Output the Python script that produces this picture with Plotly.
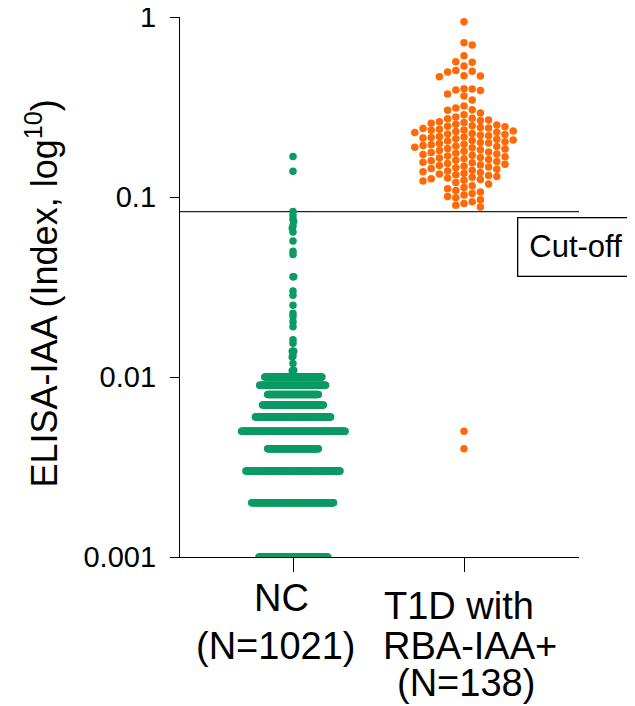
import numpy as np
import plotly.graph_objects as go

# ---------------- data ----------------
categories = ["NC", "T1D with RBA-IAA+"]

# NC group: many identical values at discrete levels + a sparse upper tail
nc_levels = [0.001, 0.002, 0.003, 0.004, 0.005, 0.006, 0.007, 0.008, 0.009, 0.010]
nc_level_counts = [96, 114, 131, 71, 144, 105, 85, 71, 92, 80]
nc_upper = [0.168, 0.139, 0.083, 0.079, 0.075, 0.073, 0.069, 0.067, 0.064, 0.057,
            0.050, 0.048, 0.036, 0.036, 0.030, 0.0285, 0.025, 0.0226, 0.0216, 0.0203,
            0.019, 0.0161, 0.0154, 0.0139, 0.0139, 0.0139, 0.0131, 0.0129, 0.0119,
            0.0109, 0.0109, 0.0108]

# T1D with RBA-IAA+ group (138 values)
t1d_values = [0.94, 0.72, 0.70, 0.61, 0.565, 0.56, 0.535, 0.505, 0.50, 0.495,
              0.472, 0.47, 0.466, 0.40, 0.398, 0.393, 0.39, 0.373, 0.364, 0.346,
              0.32, 0.312, 0.305, 0.303,
              0.293, 0.286, 0.278,
              0.274, 0.272, 0.268, 0.266, 0.262, 0.259, 0.257, 0.254, 0.251, 0.249,
              0.247, 0.246, 0.243, 0.2415, 0.240, 0.238, 0.236, 0.2345, 0.2325, 0.231,
              0.229, 0.228, 0.2255, 0.224, 0.2225, 0.2205, 0.219, 0.217, 0.2155, 0.214,
              0.2125, 0.2105, 0.209, 0.2075, 0.206, 0.2045, 0.2025, 0.201, 0.1995, 0.198,
              0.1965, 0.195, 0.1935, 0.192, 0.1905, 0.189, 0.1875, 0.186, 0.1845, 0.183,
              0.181, 0.1795, 0.178, 0.1765, 0.175, 0.1735, 0.172, 0.1705, 0.169, 0.1675,
              0.166, 0.1645, 0.163, 0.1615, 0.160, 0.1588, 0.1575, 0.156, 0.1548, 0.1535,
              0.152, 0.1508, 0.1495, 0.1482,
              0.147, 0.1455, 0.144, 0.1425, 0.141, 0.1395, 0.138, 0.1368, 0.1355, 0.134,
              0.1328, 0.1315, 0.130, 0.1288, 0.1275, 0.1262, 0.125, 0.1238, 0.1226,
              0.1205, 0.118, 0.1155, 0.113, 0.111, 0.1085, 0.1065, 0.1045, 0.1025,
              0.1005, 0.099,
              0.0965, 0.094, 0.092, 0.090, 0.088,
              0.005, 0.004]

cutoff = 0.083
y_tickvals = [0.001, 0.01, 0.1, 1]
y_ticktext = ["0.001", "0.01", "0.1", "1"]
nc_label_lines = ["NC", "(N=1021)"]
t1d_label_lines = ["T1D with", "RBA-IAA+", "(N=138)"]
y_title = "ELISA-IAA (Index, log<sup>10</sup>)"
cutoff_label = "Cut-off"

# ---------------- layout geometry ----------------
W, H = 635, 706
OFF = 8                      # page body offset of the figure inside the window
PLOT_L, PLOT_T = 180, 17     # plot-area corner as seen in the window
plot_w, plot_h = 399, 540
ML, MT = PLOT_L - OFF, PLOT_T - OFF
MR, MB = W - ML - plot_w, H - MT - plot_h
X_RANGE = [-0.6608, 1.6725]
Y_RANGE = [-3, 0]
px_per_x = plot_w / (X_RANGE[1] - X_RANGE[0])
px_per_decade = plot_h / (Y_RANGE[1] - Y_RANGE[0])

FONT = "Liberation Sans, Arial, Helvetica, sans-serif"
GREEN = "#0a9a63"
ORANGE = "#ff6a06"


def swarm(values, spacing_px, vmin_px):
    """Column-based beeswarm: x offsets (data units) computed from values."""
    ys = np.log10(np.asarray(values, dtype=float)) * px_per_decade
    order = np.argsort(-ys, kind="stable")
    cols = {}
    side = {1: 0, -1: 0}
    offs = np.zeros(len(ys))
    for i in order:
        y = ys[i]
        k = 0
        placed = None
        while placed is None:
            if k == 0:
                cands = [0]
            else:
                first = 1 if side[1] <= side[-1] else -1
                cands = [first * k, -first * k]
            for c in cands:
                if all(abs(y - yy) >= vmin_px for yy in cols.get(c, [])):
                    placed = c
                    break
            k += 1
        cols.setdefault(placed, []).append(y)
        if placed != 0:
            side[1 if placed > 0 else -1] += 1
        offs[i] = placed * spacing_px / px_per_x
    return offs


nc_values = list(np.repeat(nc_levels, nc_level_counts)) + nc_upper
nc_x = 0 + swarm(nc_values, 0.724, 3.0)
t1d_x = 1 + swarm(t1d_values, 8.2, 7.0)

fig = go.Figure()
fig.add_trace(go.Scatter(x=nc_x, y=nc_values, mode="markers",
                         marker=dict(size=7.5, color=GREEN, line=dict(width=0)),
                         name=categories[0], showlegend=False, hoverinfo="y"))
fig.add_trace(go.Scatter(x=t1d_x, y=t1d_values, mode="markers",
                         marker=dict(size=7.5, color=ORANGE, line=dict(width=0)),
                         name=categories[1], showlegend=False, hoverinfo="y"))

fig.add_shape(type="line", xref="paper", x0=0, x1=1, yref="y", y0=cutoff, y1=cutoff,
              line=dict(color="#222222", width=1.3), layer="below")


def py(pix):  # window pixel row -> paper y
    return (PLOT_T + plot_h - pix) / plot_h


def px(pix):  # window pixel column -> paper x
    return (pix - PLOT_L) / plot_w


annotations = []
label_specs = [
    (0, nc_label_lines[0], -12, 598),
    (0, nc_label_lines[1], -18, 646),
    (1, t1d_label_lines[0], -5, 606),
    (1, t1d_label_lines[1], 6, 646),
    (1, t1d_label_lines[2], 2, 683),
]
for xc, txt, xs, ypix in label_specs:
    annotations.append(dict(x=xc, xref="x", xshift=xs, y=py(ypix), yref="paper",
                            text=txt, showarrow=False, xanchor="center", yanchor="middle",
                            font=dict(family=FONT, size=38, color="black")))
annotations.append(dict(x=px(41), xref="paper", y=py(293.5), yref="paper",
                        text=y_title, textangle=-90, showarrow=False,
                        xanchor="center", yanchor="middle",
                        font=dict(family=FONT, size=36, color="black")))
annotations.append(dict(x=px(517), xref="paper", y=py(247.5), yref="paper",
                        text=cutoff_label + "\u00a0\u00a0\u00a0\u00a0",
                        showarrow=False, xanchor="left", yanchor="middle",
                        bordercolor="black", borderwidth=1.3, borderpad=11,
                        bgcolor="white",
                        font=dict(family=FONT, size=31, color="black")))

fig.update_layout(
    width=W, height=H,
    margin=dict(l=ML, r=MR, t=MT, b=MB, pad=0, autoexpand=False),
    paper_bgcolor="white", plot_bgcolor="white",
    font=dict(family=FONT, color="black"),
    showlegend=False,
    annotations=annotations,
    xaxis=dict(range=X_RANGE, tickvals=[0, 1], showticklabels=False, automargin=False,
               showgrid=False, zeroline=False, showline=True, linecolor="black",
               linewidth=1.3, ticks="outside", ticklen=14, tickwidth=1.3,
               tickcolor="black", fixedrange=True),
    yaxis=dict(type="log", range=Y_RANGE, tickvals=y_tickvals, ticktext=y_ticktext,
               automargin=False, ticklabeloverflow="allow",
               showgrid=False, zeroline=False, showline=True, linecolor="black",
               linewidth=1.3, ticks="outside", ticklen=9, tickwidth=1.3,
               tickcolor="black", ticklabelstandoff=8,
               tickfont=dict(family=FONT, size=29, color="black"), fixedrange=True),
)

fig.write_html("out.html")
